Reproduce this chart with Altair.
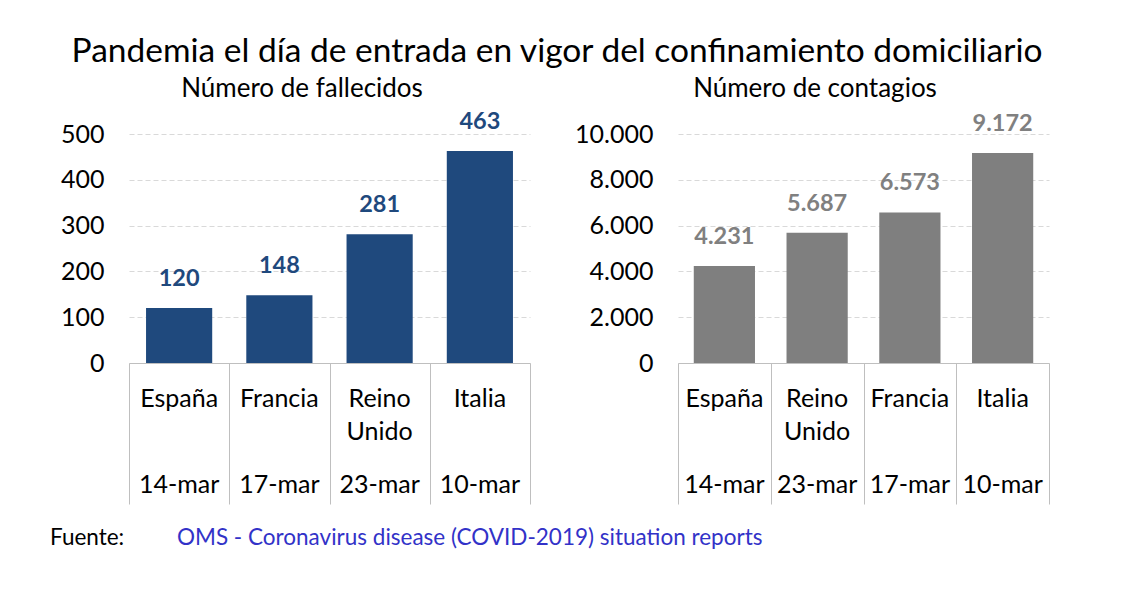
import altair as alt
import pandas as pd

# ---- data ----
left_countries = ["España", "Francia", "Reino Unido", "Italia"]
left_dates = ["14-mar", "17-mar", "23-mar", "10-mar"]
deaths = [120, 148, 281, 463]

right_countries = ["España", "Reino Unido", "Francia", "Italia"]
right_dates = ["14-mar", "23-mar", "17-mar", "10-mar"]
cases = [4231, 5687, 6573, 9172]

left_ticks = [0, 100, 200, 300, 400, 500]
right_ticks = [0, 2000, 4000, 6000, 8000, 10000]

main_title = "Pandemia el día de entrada en vigor del confinamiento domiciliario"
left_sub = "Número de fallecidos"
right_sub = "Número de contagios"
source_lbl = "Fuente:"
source_txt = "OMS - Coronavirus disease (COVID-2019) situation reports"

FONT = "Lato"
H = 229
FMT = "replace(format(datum.value, ','), ',', '.')"


def panel(countries, dates, values, ticks, w, color, lblcolor, subtitle, sub_x, extra=None):
    df = pd.DataFrame({"country": countries, "date": dates, "value": values})
    base = alt.Chart(df)
    x = alt.X(
        "country:N",
        sort=countries,
        scale=alt.Scale(paddingInner=0, paddingOuter=0),
        axis=alt.Axis(
            labels=False, ticks=True, tickBand="extent", tickSize=141,
            tickColor="#bfbfbf", domainColor="#bfbfbf", tickWidth=1,
            domainWidth=1, title=None,
        ),
    )
    y = alt.Y(
        "value:Q",
        scale=alt.Scale(domain=[ticks[0], ticks[-1]], nice=False),
        axis=alt.Axis(
            values=ticks, grid=True, gridDash=[5, 3], gridColor="#d9d9d9",
            domain=False, ticks=False, labelPadding=25, labelFontSize=25,
            labelFont=FONT, labelColor="#000000", title=None, labelExpr=FMT,
        ),
    )
    bars = base.mark_bar(color=color, width=alt.RelativeBandSize(0.66)).encode(x=x, y=y)
    vals = base.transform_calculate(
        lbl="replace(format(datum.value, ','), ',', '.')"
    ).mark_text(
        font=FONT, fontSize=23.5, fontWeight="bold", color=lblcolor,
        baseline="alphabetic", dy=-22,
    ).encode(x=x, y=y, text="lbl:N")
    ctry = base.mark_text(
        font=FONT, fontSize=25, color="#000000", baseline="alphabetic",
        lineBreak=" ", lineHeight=33,
    ).encode(x=x, y=alt.value(H + 44), text="country:N")
    dts = base.mark_text(
        font=FONT, fontSize=25, color="#000000", baseline="alphabetic",
    ).encode(x=x, y=alt.value(H + 130), text="date:N")
    sub = alt.Chart(pd.DataFrame({"t": [subtitle]})).mark_text(
        font=FONT, fontSize=26, color="#000000", baseline="alphabetic", align="center",
    ).encode(x=alt.value(sub_x), y=alt.value(-37), text="t:N")
    layers = [bars, vals, ctry, dts, sub] + (extra or [])
    return alt.layer(*layers).properties(width=w, height=H)


title_layer = alt.Chart(pd.DataFrame({"t": [main_title]})).mark_text(
    font=FONT, fontSize=33.5, color="#000000", baseline="alphabetic", align="center",
).encode(x=alt.value(428), y=alt.value(-72), text="t:N")
src1 = alt.Chart(pd.DataFrame({"t": [source_lbl]})).mark_text(
    font=FONT, fontSize=22.5, color="#000000", baseline="alphabetic", align="left",
).encode(x=alt.value(-79), y=alt.value(411), text="t:N")
src2 = alt.Chart(pd.DataFrame({"t": [source_txt]})).mark_text(
    font=FONT, fontSize=22.5, color="#3232c8", baseline="alphabetic", align="left",
).encode(x=alt.value(48), y=alt.value(411), text="t:N")

left = panel(left_countries, left_dates, deaths, left_ticks, 401,
             "#1f497d", "#1f497d", left_sub, 173, [title_layer, src1, src2])
right = panel(right_countries, right_dates, cases, right_ticks, 371,
              "#7f7f7f", "#808080", right_sub, 137)

chart = alt.hconcat(left, right, spacing=148, bounds="flush").properties(
    padding={"left": 42, "top": 27, "right": 5, "bottom": 5},
    background="white",
).configure_view(stroke=None)

chart.save("out.html", embed_options={"renderer": "svg", "actions": False})
